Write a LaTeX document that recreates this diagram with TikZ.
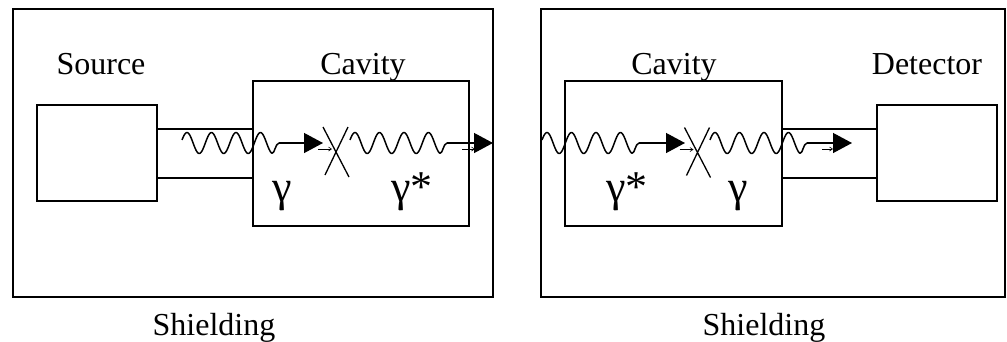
\documentclass[tikz,border=0pt]{standalone}
\usepackage{fontspec}
\setmainfont{Liberation Serif}
\usetikzlibrary{arrows.meta}
\tikzset{
  box/.style={draw, line width=1.4pt, inner sep=0pt},
  lbl/.style={font=\fontsize{32}{36}\selectfont, anchor=base, inner sep=0pt},
  glbl/.style={font=\fontsize{44}{48}\selectfont, anchor=base, inner sep=0pt},
  tube/.style={line width=1.4pt},
  wave/.style={line width=1.5pt, line join=round},
  ray/.style={line width=1.3pt, -{Triangle[length=19pt,width=20pt]}},
  tick/.style={line width=0.6pt, -{Straight Barb[length=3pt,width=4pt]}},
  cross/.style={line width=1.3pt},
}
% photon: #1 start, #2 hook end, #3 arrow tip
\newcommand{\photon}[3]{%
  \draw[wave, shift={(#1)}] plot[domain=0:90, samples=91] (\x, {-10.5*sin(17+\x*14.694)})
    .. controls (93,10.3) and (93,1) .. (97,0) coordinate (#2);
  \draw[ray] (#2) -- (#3);}
\newcommand{\scatterx}[1]{%
  \draw[cross] (#1) ++(-13,-25) -- ++(26,50) (#1) ++(12,-25) -- ++(-23,48);
  \draw[tick] (#1) ++(-18,-3) -- ++(14,0);}

\begin{document}
\begin{tikzpicture}[x=1pt,y=-1pt]
  \useasboundingbox (0,0) rectangle (1007,341);
  % shielding
  \node[box, minimum width=480pt, minimum height=288pt] (shieldL) at (253,153) {};
  \node[box, minimum width=464pt, minimum height=288pt] (shieldR) at (773,153) {};
  % source, cavities, detector
  \node[box, minimum width=120pt, minimum height=96pt] (src) at (97,153) {};
  \node[box, minimum width=216pt, minimum height=145pt] (cavL) at (361,153.5) {};
  \node[box, minimum width=217pt, minimum height=145pt] (cavR) at (673.5,153.5) {};
  \node[box, minimum width=120pt, minimum height=96pt] (det) at (937,153) {};
  % tubes
  \draw[tube] ([yshift=24pt]src.east) -- ([yshift=24pt]src.east -| cavL.west);
  \draw[tube] ([yshift=-25pt]src.east) -- ([yshift=-25pt]src.east -| cavL.west);
  \draw[tube] ([yshift=24pt]det.west -| cavR.east) -- ([yshift=24pt]det.west);
  \draw[tube] ([yshift=-25pt]det.west -| cavR.east) -- ([yshift=-25pt]det.west);
  % labels
  \node[lbl] (srclbl) at (101,74) {Source};
  \node[lbl] (cavLlbl) at (363,74) {Cavity};
  \node[lbl] (cavRlbl) at (674,74) {Cavity};
  \node[lbl] (detlbl) at (927,74) {Detector};
  \node[lbl] (shLlbl) at (214,335) {Shielding};
  \node[lbl] (shRlbl) at (764,335) {Shielding};
  \node[glbl] (gL) at (282,201) {γ};
  \node[glbl] (gsL) at (412,201) {γ*};
  \node[glbl] (gsR) at (627,201) {γ*};
  \node[glbl] (gR) at (738,201) {γ};
  % photon paths
  \coordinate (w1) at (182,143); \coordinate (t1) at (323,143);
  \coordinate (w2) at (350,143); \coordinate (t2) at (493,143);
  \coordinate (w3) at (542,143); \coordinate (t3) at (685,143);
  \coordinate (w4) at (710,143); \coordinate (t4) at (852,143);
  \photon{w1}{h1}{t1}
  \photon{w2}{h2}{t2}
  \photon{w3}{h3}{t3}
  \photon{w4}{h4}{t4}
  \draw[tick] (t2) ++(-31,6) -- ++(13,0);
  \draw[tick] (t4) ++(-30,6) -- ++(11,0);
  % conversion points
  \coordinate (xL) at (336,152);
  \coordinate (xR) at (697.5,152.5);
  \scatterx{xL}
  \scatterx{xR}
\end{tikzpicture}
\end{document}
